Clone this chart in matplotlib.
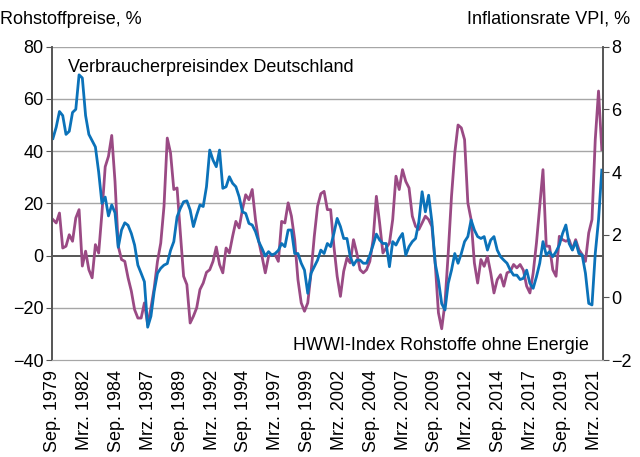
import numpy as np
import matplotlib.pyplot as plt

plt.rcParams['font.family'] = ['Liberation Sans', 'DejaVu Sans']

# quarterly readings, months since Sep. 1979
months = np.arange(0, 505, 3)

# Verbraucherpreisindex Deutschland, % (right axis)
vpi = [5.07, 5.43, 5.93, 5.8, 5.2, 5.3, 5.9, 6.0, 7.1, 7.0,
       5.8, 5.2, 5.0, 4.8, 4.0, 3.0, 3.2, 2.6, 2.95, 2.7,
       1.6, 2.15, 2.38, 2.3, 2.04, 1.67, 1.03, 0.77, 0.5, -0.95,
       -0.6, 0.2, 0.77, 0.93, 1.03, 1.08, 1.5, 1.78, 2.57, 2.84,
       3.05, 3.08, 2.79, 2.26, 2.63, 2.95, 2.9, 3.53, 4.7, 4.38,
       4.17, 4.7, 3.48, 3.53, 3.85, 3.64, 3.53, 3.21, 2.73, 2.68,
       2.36, 2.31, 2.1, 1.78, 1.56, 1.32, 1.46, 1.35, 1.4, 1.5,
       1.72, 1.62, 2.15, 2.15, 1.4, 1.4, 1.09, 0.87, 0.13, 0.77,
       0.98, 1.19, 1.51, 1.4, 1.72, 1.62, 2.04, 2.52, 2.26, 1.88,
       1.88, 1.3, 1.03, 1.19, 1.19, 1.09, 1.09, 1.35, 1.67, 2.02,
       1.83, 1.72, 1.72, 0.98, 1.78, 1.67, 1.88, 2.04, 1.35, 1.62,
       1.78, 1.88, 2.41, 3.37, 2.73, 3.26, 2.41, 1.09, 0.55, -0.2,
       -0.4, 0.45, 0.87, 1.4, 1.09, 1.4, 1.78, 1.94, 2.47, 2.15,
       1.94, 1.88, 1.94, 1.51, 1.83, 1.94, 1.51, 1.3, 1.19, 1.09,
       0.87, 0.71, 0.71, 0.57, 0.61, 0.87, 0.45, 0.29, 0.66, 1.09,
       1.78, 1.35, 1.46, 1.3, 1.46, 1.67, 2.04, 2.31, 1.72, 1.51,
       1.78, 1.4, 1.35, 0.77, -0.19, -0.24, 1.4, 2.47, 4.06]

# HWWI-Index Rohstoffe ohne Energie, % (left axis)
hwwi = [13.8, 12.5, 16.3, 2.9, 3.6, 8.0, 5.5, 14.4, 17.6, -4.0,
        1.7, -5.4, -8.5, 4.2, 1.0, 16.3, 34.0, 38.0, 46.0, 28.4,
        3.6, -1.5, -2.2, -8.5, -13.6, -20.7, -23.9, -23.9, -18.1, -26.4,
        -20.0, -12.4, -2.2, 4.8, 18.9, 45.0, 39.3, 25.3, 25.9, 8.7,
        -7.9, -11.1, -25.8, -23.2, -20.0, -13.0, -10.5, -6.4, -5.4, -2.2,
        3.3, -3.4, -6.6, 2.9, 1.0, 7.4, 13.1, 10.6, 17.6, 23.3,
        21.4, 25.3, 13.8, 5.5, -0.3, -6.6, -0.3, 0.4, 0.4, -2.2,
        13.1, 12.5, 20.2, 15.1, 6.1, -9.2, -18.1, -21.3, -18.1, -6.6,
        7.4, 18.9, 23.7, 24.6, 17.6, 17.6, 3.6, -7.9, -15.6, -6.0,
        -0.9, -2.8, 6.1, 1.0, -5.4, -6.6, -5.4, -2.2, 6.1, 22.7,
        12.5, 1.0, 2.9, 4.8, 13.8, 30.4, 25.3, 32.9, 28.4, 25.9,
        15.1, 11.2, 10.0, 12.5, 15.1, 13.8, 11.2, -2.8, -21.9, -28.0,
        -18.1, 1.0, 22.7, 39.3, 50.0, 48.9, 44.4, 20.2, 13.8, -2.8,
        -10.5, -1.5, -4.1, -0.3, -6.6, -14.3, -9.2, -7.3, -11.7, -6.6,
        -6.0, -3.4, -4.7, -3.4, -5.6, -11.7, -14.3, -6.6, 4.8, 18.9,
        32.9, 3.6, 3.6, -5.4, -7.9, 7.4, 6.1, 5.5, 6.1, 2.3,
        6.1, 2.3, 0.4, -2.2, 8.7, 13.8, 44.4, 63.0, 40.6]

tick_labels = ['Sep. 1979', 'Mrz. 1982', 'Sep. 1984', 'Mrz. 1987', 'Sep. 1989',
               'Mrz. 1992', 'Sep. 1994', 'Mrz. 1997', 'Sep. 1999', 'Mrz. 2002',
               'Sep. 2004', 'Mrz. 2007', 'Sep. 2009', 'Mrz. 2012', 'Sep. 2014',
               'Mrz. 2017', 'Sep. 2019', 'Mrz. 2021']

blue = '#0b72b9'
purple = '#9a4a84'
fs = 13

fig = plt.figure(figsize=(6.4, 4.57), dpi=100)
ax = fig.add_axes([0.081, 0.212, 0.861, 0.686])
ax2 = ax.twinx()

# grid lines belong to the left scale
for v in [80, 60, 40, 20, -20]:
    ax.axhline(v, color='#a6a6a6', lw=1.0, zorder=0)
ax.axhline(0, color='#555555', lw=1.4, zorder=0)

ax.plot(months, hwwi, color=purple, lw=2.0)
ax2.plot(months, vpi, color=blue, lw=2.0)

ax.set_xlim(-1, 505)
ax.set_ylim(-40, 80)
ax2.set_ylim(-2, 8)
ax.set_yticks(range(-40, 81, 20))
ax2.set_yticks(range(-2, 9, 2))

ax.set_xticks(np.linspace(0, 497, len(tick_labels)))
ax.set_xticklabels(tick_labels, rotation=90, fontsize=fs)
ax.tick_params(axis='x', length=0, pad=7)
ax.tick_params(axis='y', labelsize=fs, length=4, color='#555555', pad=2)
ax2.tick_params(axis='y', labelsize=fs, length=4, color='#555555', pad=2)

for a in (ax, ax2):
    a.spines['top'].set_visible(False)
    a.spines['bottom'].set_color('#a6a6a6')
    a.spines['left'].set_color('#555555')
    a.spines['right'].set_color('#555555')
    a.spines['left'].set_linewidth(1.2)
    a.spines['right'].set_linewidth(1.2)

fig.text(0.0, 0.958, 'Rohstoffpreise, %', fontsize=fs, ha='left', va='center')
fig.text(0.985, 0.958, 'Inflationsrate VPI, %', fontsize=fs, ha='right', va='center')
ax.text(0.03, 0.96, 'Verbraucherpreisindex Deutschland', transform=ax.transAxes,
        fontsize=fs, ha='left', va='top')
ax.text(0.975, 0.02, 'HWWI-Index Rohstoffe ohne Energie', transform=ax.transAxes,
        fontsize=fs, ha='right', va='bottom')

fig.savefig('out.png', dpi=100)
